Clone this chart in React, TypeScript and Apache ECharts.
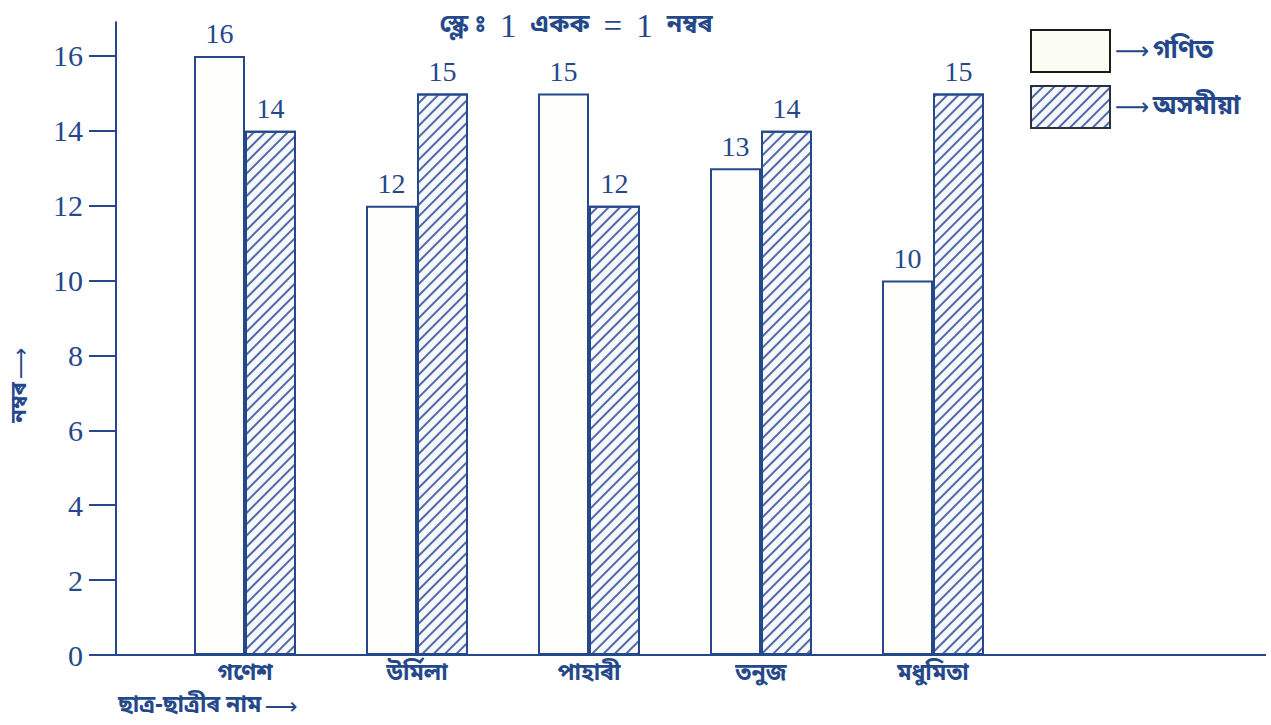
import React, { useEffect, useRef } from 'react';
import * as echarts from 'echarts';

const categories = ['গণেশ', 'উৰ্মিলা', 'পাহাৰী', 'তনুজ', 'মধুমিতা'];
const seriesNames = ['গণিত', 'অসমীয়া'];
const mathScores = [16, 12, 15, 13, 10];
const assameseScores = [14, 15, 12, 14, 15];
const yTicks = [0, 2, 4, 6, 8, 10, 12, 14, 16];
const titleParts = ['স্কেল\u00A0ঃ', '1', 'একক', '=', '1', 'নম্বৰ'];
const yName = 'নম্বৰ';
const xName = 'ছাত্ৰ-ছাত্ৰীৰ নাম';
const ARROW = '⟶';

const BLUE = '#25488a';
const SERIF = '"Liberation Serif", "DejaVu Serif", serif';
const BENGALI = '"Noto Sans Bengali", "Noto Serif Bengali", "Lohit Bengali", "Noto Sans", sans-serif';
const ARROWFONT = '"DejaVu Sans", sans-serif';

const hatch = {
  symbol: 'rect',
  symbolSize: 1,
  dashArrayX: [[1, 0]],
  dashArrayY: [1.1, 6],
  rotation: -Math.PI / 4,
  color: '#4f6aa6',
};

export default function App() {
  const ref = useRef<HTMLDivElement>(null);
  useEffect(() => {
    if (!ref.current) return;
    const chart = echarts.init(ref.current, null, { renderer: 'svg' });
    const labelStyle = {
      show: true,
      position: 'top',
      distance: 8,
      fontFamily: SERIF,
      fontSize: 28,
      color: BLUE,
    };
    const [t0, t1, t2, t3, t4, t5] = titleParts;
    const title =
      `{b|${t0}}{s|}{n|${t1}}{s|}{b|${t2}}{s|}{n|${t3}}{s|}{n|${t4}}{s|}{b|${t5}}`;
    chart.setOption({
      animation: false,
      backgroundColor: '#ffffff',
      title: {
        text: title,
        left: 571,
        top: 4,
        textAlign: 'center',
        textStyle: {
          fontWeight: 'normal',
          rich: {
            b: { fontFamily: BENGALI, fontSize: 25, fontWeight: 'bold', color: BLUE },
            n: { fontFamily: SERIF, fontSize: 33, fontWeight: 'normal', color: BLUE },
            s: { width: 14 },
          },
        },
      },
      legend: {
        orient: 'vertical',
        left: 1030,
        top: 29,
        padding: 0,
        itemWidth: 79,
        itemHeight: 42,
        itemGap: 12,
        icon: 'rect',
        formatter: (name: string) => `{a|${ARROW}} {b|${name}}`,
        textStyle: {
          rich: {
            a: { fontFamily: ARROWFONT, fontSize: 24, color: BLUE },
            b: { fontFamily: BENGALI, fontSize: 26, color: BLUE, fontWeight: 'bold' },
          },
        },
        data: [
          { name: seriesNames[0], itemStyle: { color: '#fbfcf2', borderColor: '#1b1b1b', borderWidth: 2 } },
          { name: seriesNames[1], itemStyle: { color: '#f6f7fb', borderColor: '#2a2f45', borderWidth: 2, decal: hatch } },
        ],
      },
      grid: { left: 159, width: 860, top: 22.3, height: 632.7 },
      xAxis: {
        type: 'category',
        data: categories,
        axisLine: { show: false },
        axisTick: { show: false },
        axisLabel: {
          margin: 7,
          fontFamily: BENGALI,
          fontSize: 23,
          fontWeight: 'bold',
          color: BLUE,
        },
      },
      yAxis: {
        type: 'value',
        min: 0,
        max: 16.9,
        offset: 43,
        splitLine: { show: false },
        axisLine: { show: true, lineStyle: { color: BLUE, width: 2 } },
        axisTick: { show: true, length: 27, lineStyle: { color: BLUE, width: 2 }, customValues: yTicks },
        axisLabel: {
          margin: 33,
          fontFamily: SERIF,
          fontSize: 30,
          color: BLUE,
          customValues: yTicks,
        },
      },
      graphic: [
        {
          type: 'line',
          shape: { x1: 115, y1: 655, x2: 1266, y2: 655 },
          style: { stroke: BLUE, lineWidth: 2 },
        },
        {
          type: 'text',
          x: 20,
          y: 385,
          rotation: Math.PI / 2,
          style: {
            text: `{b|${yName}} {a|${ARROW}}`,
            align: 'center',
            verticalAlign: 'middle',
            rich: {
              b: { fontFamily: BENGALI, fontSize: 22, fontWeight: 'bold', fill: BLUE },
              a: { fontFamily: ARROWFONT, fontSize: 22, fill: BLUE },
            },
          },
        },
        {
          type: 'text',
          x: 118,
          y: 706,
          style: {
            text: `{b|${xName}} {a|${ARROW}}`,
            align: 'left',
            verticalAlign: 'middle',
            rich: {
              b: { fontFamily: BENGALI, fontSize: 23, fontWeight: 'bold', fill: BLUE },
              a: { fontFamily: ARROWFONT, fontSize: 23, fill: BLUE },
            },
          },
        },
      ],
      series: [
        {
          name: seriesNames[0],
          type: 'bar',
          data: mathScores,
          barWidth: 51,
          barGap: '0%',
          itemStyle: { color: '#fefefb', borderColor: BLUE, borderWidth: 2 },
          label: labelStyle,
        },
        {
          name: seriesNames[1],
          type: 'bar',
          data: assameseScores,
          barWidth: 51,
          itemStyle: { color: '#f7f8fc', borderColor: BLUE, borderWidth: 2, decal: hatch },
          label: labelStyle,
        },
      ],
    });
    return () => chart.dispose();
  }, []);
  return (
    <div
      ref={ref}
      style={{ position: 'fixed', left: 0, top: 0, width: 1271, height: 725, background: '#fff' }}
    />
  );
}
